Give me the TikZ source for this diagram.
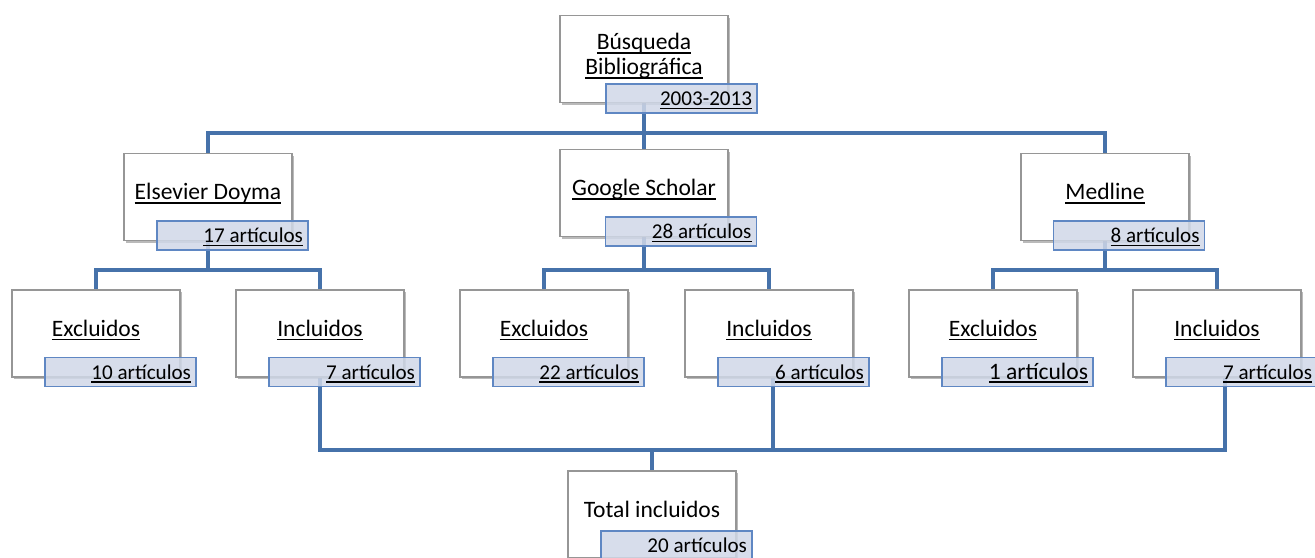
\documentclass[tikz,border=0pt]{standalone}
\usepackage{fontspec}
\setmainfont{Carlito}
\usetikzlibrary{shadows,backgrounds}

\definecolor{linkblue}{RGB}{70,114,170}
\definecolor{tagfill}{RGB}{208,216,232}
\definecolor{tagdraw}{RGB}{95,135,195}
\definecolor{boxdraw}{RGB}{150,150,150}

% underlined link text
\newsavebox\lnkbox
\newcommand{\lnk}[1]{\sbox\lnkbox{#1}\rlap{\rule[-2.2pt]{\wd\lnkbox}{0.8pt}}\usebox\lnkbox}
\newcommand{\tagtxt}[1]{\makebox[28.2mm][r]{#1}}

\tikzset{
    box/.style={draw=boxdraw, line width=0.6pt, fill=white, minimum width=33.6mm, minimum height=17.4mm,
        inner sep=0pt, text height=8pt, text depth=5pt, font=\fontsize{13.4}{16}\selectfont,
        drop shadow={shadow xshift=1.3pt, shadow yshift=-1.3pt, opacity=0.45, fill=black!60}},
    tag/.style={draw=tagdraw, line width=0.8pt, fill=tagfill, fill opacity=0.85, text opacity=1,
        minimum width=30.2mm, minimum height=5.8mm, inner sep=0pt, text height=8pt, text depth=0pt},
    conn/.style={draw=linkblue, line width=2.8pt}
}

\begin{document}
\begin{tikzpicture}[x=0.2mm, y=-0.2mm]
    \useasboundingbox (0,0) rectangle (1315,558);

    % Search box
    \node[box, align=center, text height=, text depth=, font=\fontsize{13.4}{14.2}\selectfont] (busq) at (644,59)
        {\lnk{Búsqueda}\\\lnk{Bibliográfica}\\[-8.5pt]\mbox{}};
    \node[tag, font=\fontsize{12}{14}\selectfont] (busqL) at (681.5,98.5) {\tagtxt{\lnk{2003-2013}}};

    % Databases
    \foreach \n/\x/\y/\lx/\t/\c in {els/208/197/232.5/Elsevier Doyma/17, goo/644/193/681/Google Scholar/28, med/1105/197/1129/Medline/8} {
        \node[box] (\n) at (\x,\y) {\lnk{\t}};
        \node[tag, font=\fontsize{12}{14}\selectfont] (\n L) at (\lx,\y+38.5) {\tagtxt{\lnk{\c{} artículos}}};
    }

    % Excluded / included
    \foreach \n/\x/\t/\c/\f in {exc1/96/Excluidos/10/12, inc1/320/Incluidos/7/12, exc2/544/Excluidos/22/12,
        inc2/769/Incluidos/6/12, exc3/993/Excluidos/1/13.4, inc3/1217/Incluidos/7/12} {
        \node[box] (\n) at (\x,333.5) {\lnk{\t}};
        \node[tag, font=\fontsize{\f}{14}\selectfont] (\n L) at (\x+24.5,372) {\tagtxt{\lnk{\c{} artículos}}};
    }

    % Total
    \node[box] (tot) at (652,514.5) {Total incluidos};
    \node[tag, font=\fontsize{12}{14}\selectfont] (totL) at (676.5,545.5) {\tagtxt{20 artículos}};

    % Connectors
    \begin{scope}[on background layer]
        \fill[white] (0,0) rectangle (1315,558);
        \coordinate (bar1) at (0,133);
        \coordinate (bar2) at (0,270);
        \coordinate (bar3) at (0,450);
        \draw[conn] (busq) -- (goo);
        \draw[conn] (els.north) |- (bar1 -| busq) -| (med.north);
        \foreach \p/\a/\b in {els/exc1/inc1, goo/exc2/inc2, med/exc3/inc3} {
            \draw[conn] (\p) -- (\p |- bar2);
            \draw[conn] (\a.north) |- (bar2 -| \p) -| (\b.north);
        }
        \draw[conn] (inc1.south) |- ([xshift=1.6mm]inc3.south |- bar3) -- ([xshift=1.6mm]inc3.south);
        \draw[conn] ([xshift=0.8mm]inc2.south) -- ([xshift=0.8mm]inc2.south |- bar3);
        \draw[conn] (tot) -- (tot |- bar3);
    \end{scope}
\end{tikzpicture}
\end{document}
